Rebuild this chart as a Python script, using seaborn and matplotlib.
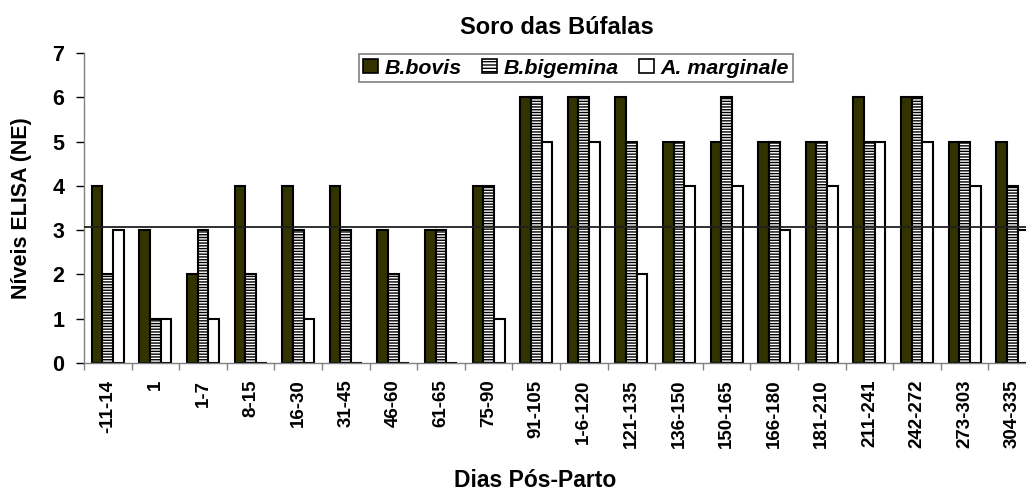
import matplotlib
matplotlib.use("Agg")
import matplotlib.pyplot as plt
import seaborn as sns
import pandas as pd
import numpy as np
from matplotlib.patches import Patch

categories = ["-11-14", "1", "1-7", "8-15", "16-30", "31-45", "46-60", "61-65", "75-90",
              "91-105", "1-6-120", "121-135", "136-150", "150-165", "166-180", "181-210",
              "211-241", "242-272", "273-303", "304-335"]
b_bovis = [4, 3, 2, 4, 4, 4, 3, 3, 4, 6, 6, 6, 5, 5, 5, 5, 6, 6, 5, 5]
b_bigemina = [2, 1, 3, 2, 3, 3, 2, 3, 4, 6, 6, 5, 5, 6, 5, 5, 5, 6, 5, 4]
a_marginale = [3, 1, 1, 0, 1, 0, 0, 0, 1, 5, 5, 2, 4, 4, 3, 4, 5, 5, 4, 3]
series_names = ["B.bovis", "B.bigemina", "A. marginale"]
cutoff = 3.07

sns.set_theme(style="white")
plt.rcParams['font.family'] = ['Liberation Sans', 'DejaVu Sans']
plt.rcParams['hatch.linewidth'] = 1.0
plt.rcParams['hatch.color'] = 'black'
plt.rcParams['text.color'] = 'black'
plt.rcParams['axes.labelcolor'] = 'black'
plt.rcParams['xtick.labelcolor'] = 'black'
plt.rcParams['ytick.labelcolor'] = 'black'

rows = []
for name, vals in zip(series_names, [b_bovis, b_bigemina, a_marginale]):
    for c, v in zip(categories, vals):
        rows.append({"cat": c, "val": v, "serie": name})
df = pd.DataFrame(rows)

fig = plt.figure(figsize=(10.26, 4.9), dpi=100)
ax = fig.add_axes([84 / 1026, 127 / 490, 952 / 1026, 310 / 490])

colors = ["#333300", "#ffffff", "#ffffff"]
sns.barplot(data=df, x="cat", y="val", hue="serie", order=categories,
            hue_order=series_names, palette=colors, saturation=1, width=0.67,
            edgecolor="black", linewidth=1.5, ax=ax, legend=False)

# hatch for B.bigemina
for patch in ax.containers[1]:
    patch.set_hatch("------")

ax.axhline(cutoff, color="#202020", linewidth=1.3, zorder=5)

ax.set_xlim(-0.5, len(categories) - 0.5)
ax.set_ylim(0, 7)
ax.set_yticks(range(0, 8))
ax.set_yticklabels([str(i) for i in range(0, 8)], fontsize=15.5, fontweight="bold")
ax.set_xticks(range(len(categories)))
ax.set_xticklabels(categories, rotation=90, fontsize=13.5, fontweight="bold")
ax.tick_params(axis="x", which="major", length=0, pad=12)
ax.set_xticks(np.arange(-0.5, len(categories), 1.0), minor=True)
ax.tick_params(axis="x", which="minor", length=5, color="#808080", width=1, direction="out", bottom=True)
ax.tick_params(axis="y", length=6, color="black", width=1, direction="out", left=True, pad=8)

for s in ["top", "right"]:
    ax.spines[s].set_visible(False)
for s in ["left", "bottom"]:
    ax.spines[s].set_color("#808080")
    ax.spines[s].set_linewidth(1.0)

ax.set_xlabel("")
ax.set_ylabel("")

fig.text(557 / 1026, 1 - 34 / 490, "Soro das Búfalas", ha="center", va="baseline",
         fontsize=17, fontweight="bold")
fig.text(535 / 1026, 1 - 487 / 490, "Dias Pós-Parto", ha="center", va="baseline",
         fontsize=16.5, fontweight="bold")
fig.text(22 / 1026, 1 - 208 / 490, "Níveis ELISA (NE)", ha="center", va="center",
         rotation=90, fontsize=15.5, fontweight="bold")

handles = [Patch(facecolor="#333300", edgecolor="black", linewidth=1.2),
           Patch(facecolor="white", edgecolor="black", linewidth=1.2, hatch="-----"),
           Patch(facecolor="white", edgecolor="black", linewidth=1.2)]
leg = fig.legend(handles, series_names, loc="center", bbox_to_anchor=(576 / 1026, 1 - 68 / 490),
                 ncol=3, frameon=True, fancybox=False, edgecolor="#808080",
                 prop={"weight": "bold", "style": "italic", "size": 15.4},
                 handlelength=0.7, handleheight=0.7, handletextpad=0.3, columnspacing=0.95,
                 borderpad=0.2, borderaxespad=0, framealpha=1)
leg.get_frame().set_linewidth(1.2)

fig.savefig("out.png", dpi=100)
